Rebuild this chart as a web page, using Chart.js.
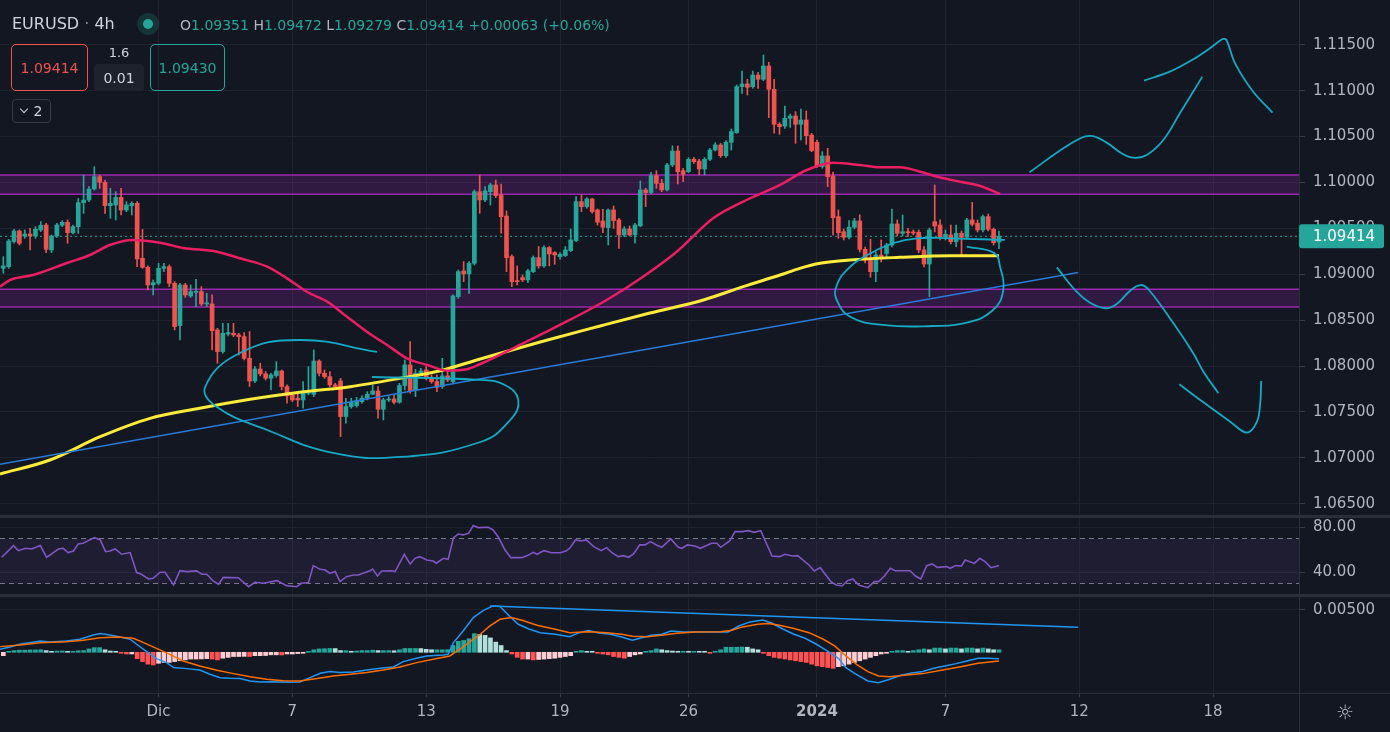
<!DOCTYPE html>
<html>
<head>
<meta charset="utf-8">
<script src="https://cdn.jsdelivr.net/npm/chart.js@4.4.1/dist/chart.umd.min.js"></script>
<style>
html,body{margin:0;padding:0;background:#131722;overflow:hidden;}
#wrap{position:relative;width:1390px;height:732px;background:#131722;}
#wrap canvas{position:absolute;left:0;top:0;}
.ov{position:absolute;font-family:'DejaVu Sans',sans-serif;white-space:nowrap;z-index:2;}
.box{position:absolute;box-sizing:border-box;border-radius:5px;display:flex;align-items:center;justify-content:center;font-family:'DejaVu Sans',sans-serif;font-size:14px;z-index:2;}
.g{color:#b2b5be}.t{color:#26a69a}
</style>
</head>
<body>
<div id="wrap">
<canvas id="c" width="1390" height="732"></canvas>
<div class="ov" style="left:12px;top:14px;font-size:16px;line-height:20px;color:#d1d4dc;">EURUSD <span style="color:#868993">·</span> 4h</div>
<div class="ov" style="left:137px;top:13px;width:22px;height:22px;border-radius:11px;background:rgba(38,166,154,0.2);"><div style="position:absolute;left:6px;top:6px;width:10px;height:10px;border-radius:5px;background:#26a69a;"></div></div>
<div class="ov" style="left:180px;top:16px;font-size:14px;line-height:18px;"><span class="g">O</span><span class="t">1.09351</span> <span class="g">H</span><span class="t">1.09472</span> <span class="g">L</span><span class="t">1.09279</span> <span class="g">C</span><span class="t">1.09414</span> <span class="t">+0.00063 (+0.06%)</span></div>
<div class="box" style="left:11px;top:44px;width:77px;height:47px;border:1px solid #ef5350;color:#ef5350;">1.09414</div>
<div class="ov" style="left:94px;top:45px;width:50px;text-align:center;font-size:13px;line-height:16px;color:#d1d4dc;">1.6</div>
<div class="box" style="left:94px;top:64px;width:50px;height:27px;background:#1e222d;border-radius:4px;color:#d1d4dc;">0.01</div>
<div class="box" style="left:150px;top:44px;width:75px;height:47px;border:1px solid #26a69a;color:#26a69a;">1.09430</div>
<div class="box" style="left:12px;top:99px;width:39px;height:24px;border:1px solid #363a45;border-radius:4px;color:#d1d4dc;font-size:14px;"><span style="display:inline-block;width:5px;height:5px;border-right:1.5px solid #d1d4dc;border-bottom:1.5px solid #d1d4dc;transform:rotate(45deg);margin:-4px 7px 0 0;"></span>2</div>
<div class="ov" style="left:1336px;top:700px;font-size:20px;line-height:24px;color:#b2b5be;">☼</div>
</div>
<script>
// ---------- DATA ----------
const open = [
1.09065,1.09083,1.09356,1.09472,1.09417,1.09439,1.09417,1.09483,1.09537,1.09265,
1.09417,1.09534,1.09566,1.09454,1.09519,1.09780,1.09809,1.09929,1.10064,1.10002,
1.09748,1.09755,1.09838,1.09700,1.09748,1.09773,1.09174,1.09076,1.08884,1.08902,
1.09065,1.09083,1.08902,1.08441,1.08884,1.08764,1.08804,1.08811,1.08677,1.08677,
1.08394,1.08158,1.08350,1.08357,1.08339,1.08321,1.08085,1.07838,1.07969,1.07915,
1.07867,1.07896,1.07947,1.07777,1.07686,1.07650,1.07631,1.07704,1.07693,1.08056,
1.07922,1.07885,1.07795,1.07838,1.07450,1.07559,1.07570,1.07613,1.07650,1.07693,
1.07729,1.07530,1.07631,1.07642,1.07606,1.07788,1.08013,1.07733,1.07922,1.07958,
1.07867,1.07831,1.07777,1.07893,1.07831,1.08757,1.09036,1.09004,1.09120,1.09900,
1.09810,1.09900,1.09973,1.09864,1.09635,1.09193,1.08928,1.08964,1.08939,1.09029,
1.09182,1.09091,1.09291,1.09236,1.09193,1.09204,1.09258,1.09367,1.09792,1.09737,
1.09821,1.09701,1.09581,1.09508,1.09701,1.09592,1.09429,1.09494,1.09429,1.09527,
1.09919,1.09890,1.10075,1.09991,1.09919,1.10191,1.10343,1.10129,1.10118,1.10253,
1.10234,1.10147,1.10253,1.10354,1.10409,1.10292,1.10438,1.10543,1.11044,1.11073,
1.11044,1.11171,1.11124,1.11269,1.11015,1.10634,1.10615,1.10699,1.10724,1.10634,
1.10681,1.10517,1.10438,1.10173,1.10289,1.10071,1.09628,1.09464,1.09403,1.09512,
1.09581,1.09272,1.09163,1.09028,1.09210,1.09226,1.09319,1.09548,1.09447,1.09464,
1.09458,1.09458,1.09265,1.09112,1.09573,1.09537,1.09403,1.09428,1.09355,1.09447,
1.09403,1.09592,1.09556,1.09483,1.09628,1.09490,1.09351
];
const high = [
1.09192,1.09381,1.09490,1.09483,1.09483,1.09501,1.09519,1.09573,1.09555,1.09428,
1.09555,1.09584,1.09592,1.09537,1.09828,1.10082,1.09955,1.10172,1.10082,1.10027,
1.09936,1.09900,1.09936,1.09791,1.09791,1.09791,1.09490,1.09091,1.08938,1.09120,
1.09120,1.09102,1.08920,1.08902,1.08902,1.08884,1.08945,1.08866,1.08793,1.08775,
1.08412,1.08466,1.08466,1.08466,1.08357,1.08365,1.08376,1.07994,1.08031,1.07940,
1.07922,1.08049,1.07958,1.07795,1.07704,1.07722,1.07831,1.07994,1.08176,1.08067,
1.07958,1.07940,1.07813,1.07867,1.07650,1.07650,1.07660,1.07675,1.07722,1.07795,
1.07777,1.07650,1.07668,1.07686,1.07813,1.08067,1.08267,1.07965,1.07976,1.07994,
1.07904,1.07904,1.08085,1.07976,1.08775,1.09047,1.09138,1.09138,1.09919,1.10082,
1.09955,1.09991,1.10027,1.09984,1.09690,1.09211,1.09091,1.08993,1.09055,1.09200,
1.09302,1.09309,1.09302,1.09247,1.09236,1.09302,1.09494,1.09846,1.09864,1.09835,
1.09828,1.09712,1.09708,1.09712,1.09744,1.09610,1.09519,1.09527,1.09556,1.10017,
1.09937,1.10111,1.10129,1.10035,1.10209,1.10398,1.10398,1.10155,1.10271,1.10274,
1.10253,1.10271,1.10372,1.10434,1.10427,1.10456,1.10583,1.11062,1.11214,1.11124,
1.11214,1.11200,1.11389,1.11309,1.11124,1.10652,1.10833,1.10746,1.10772,1.10801,
1.10779,1.10536,1.10463,1.10336,1.10372,1.10114,1.09701,1.09494,1.09584,1.09610,
1.09648,1.09297,1.09381,1.09243,1.09374,1.09337,1.09711,1.09592,1.09646,1.09501,
1.09483,1.09483,1.09301,1.09504,1.09973,1.09592,1.09483,1.09537,1.09537,1.09472,
1.09610,1.09784,1.09592,1.09646,1.09657,1.09504,1.09472
];
const low = [
1.09011,1.09065,1.09338,1.09319,1.09392,1.09265,1.09392,1.09465,1.09236,1.09236,
1.09403,1.09519,1.09338,1.09439,1.09446,1.09664,1.09791,1.09918,1.09936,1.09664,
1.09610,1.09592,1.09646,1.09682,1.09646,1.09083,1.09065,1.08829,1.08775,1.08884,
1.09029,1.08866,1.08394,1.08285,1.08749,1.08749,1.08648,1.08659,1.08648,1.08176,
1.08031,1.08140,1.08328,1.08321,1.08122,1.08067,1.07777,1.07820,1.07893,1.07849,
1.07740,1.07878,1.07740,1.07595,1.07613,1.07559,1.07541,1.07686,1.07668,1.07893,
1.07867,1.07777,1.07758,1.07232,1.07377,1.07541,1.07552,1.07595,1.07631,1.07686,
1.07432,1.07414,1.07613,1.07588,1.07595,1.07740,1.07704,1.07668,1.07904,1.07849,
1.07813,1.07722,1.07758,1.07831,1.07813,1.08738,1.08920,1.08793,1.09100,1.09665,
1.09792,1.09755,1.09835,1.09447,1.09029,1.08866,1.08884,1.08920,1.08909,1.09018,
1.09066,1.09076,1.09091,1.09109,1.09164,1.09193,1.09247,1.09356,1.09683,1.09719,
1.09665,1.09537,1.09454,1.09320,1.09501,1.09283,1.09410,1.09418,1.09338,1.09519,
1.09737,1.09875,1.09937,1.09900,1.09908,1.10173,1.09984,1.10009,1.10107,1.10209,
1.10082,1.10082,1.10238,1.10343,1.10274,1.10274,1.10354,1.10536,1.10971,1.10953,
1.11026,1.11026,1.11109,1.10706,1.10536,1.10525,1.10590,1.10601,1.10427,1.10463,
1.10416,1.10336,1.10162,1.10155,1.09955,1.09428,1.09392,1.09374,1.09385,1.09494,
1.09243,1.09123,1.08967,1.08919,1.09134,1.09167,1.09297,1.09417,1.09417,1.09410,
1.09428,1.09235,1.09080,1.08756,1.09461,1.09374,1.09374,1.09330,1.09301,1.09210,
1.09385,1.09526,1.09461,1.09461,1.09472,1.09319,1.09279
];
const close = [
1.09091,1.09363,1.09472,1.09338,1.09439,1.09417,1.09490,1.09534,1.09272,1.09417,
1.09537,1.09566,1.09454,1.09519,1.09780,1.09809,1.09929,1.10064,1.10002,1.09748,
1.09773,1.09838,1.09700,1.09755,1.09773,1.09167,1.09076,1.08884,1.08909,1.09065,
1.09083,1.08902,1.08430,1.08884,1.08775,1.08811,1.08811,1.08677,1.08684,1.08386,
1.08158,1.08357,1.08365,1.08339,1.08321,1.08085,1.07838,1.07969,1.07915,1.07867,
1.07904,1.07947,1.07777,1.07675,1.07631,1.07631,1.07704,1.07711,1.08056,1.07922,
1.07885,1.07795,1.07777,1.07450,1.07559,1.07606,1.07624,1.07650,1.07693,1.07729,
1.07530,1.07631,1.07642,1.07606,1.07788,1.08013,1.07733,1.07922,1.07947,1.07867,
1.07831,1.07769,1.07893,1.07849,1.08764,1.09029,1.09004,1.09120,1.09900,1.09810,
1.09908,1.09973,1.09857,1.09628,1.09182,1.08920,1.08920,1.08939,1.09037,1.09182,
1.09091,1.09291,1.09222,1.09211,1.09218,1.09265,1.09374,1.09792,1.09737,1.09821,
1.09683,1.09567,1.09512,1.09701,1.09585,1.09429,1.09494,1.09429,1.09537,1.09919,
1.09890,1.10075,1.09991,1.09919,1.10191,1.10343,1.10118,1.10089,1.10253,1.10227,
1.10147,1.10253,1.10354,1.10409,1.10292,1.10438,1.10554,1.11044,1.11073,1.11037,
1.11171,1.11124,1.11269,1.11015,1.10634,1.10608,1.10699,1.10724,1.10634,1.10681,
1.10510,1.10347,1.10173,1.10289,1.10064,1.09617,1.09453,1.09403,1.09512,1.09581,
1.09272,1.09156,1.09028,1.09210,1.09167,1.09319,1.09548,1.09447,1.09464,1.09453,
1.09450,1.09265,1.09112,1.09483,1.09526,1.09410,1.09436,1.09355,1.09447,1.09403,
1.09592,1.09545,1.09483,1.09628,1.09490,1.09344,1.09414
];

// moving averages: [bar index, price]
const maRed = [[-0.62,1.08865],[1.25,1.08938],[5.55,1.08992],[11.9,1.09123],[16.2,1.09210],[19.9,1.09319],[24.2,1.09374],[29.3,1.09344],[33.6,1.09287],[39.9,1.09246],[44.2,1.09174],[49.3,1.09083],[53.0,1.08956],[56.7,1.08810],[60.5,1.08702],[64.2,1.08538],[67.9,1.08375],[71.7,1.08230],[75.4,1.08085],[79.2,1.08012],[82.9,1.07950],[86.6,1.07965],[89.1,1.08023],[96.5,1.08230],[104.0,1.08448],[112.7,1.08720],[119.5,1.08974],[125.8,1.09246],[132.6,1.09610],[138.2,1.09791],[145.1,1.09973],[150.1,1.10136],[155.0,1.10216],[160.0,1.10191],[163.8,1.10166],[167.5,1.10166],[171.3,1.10118],[174.9,1.10057],[178.7,1.10009],[182.5,1.09962],[186.2,1.09875]];
const maYellow = [[-0.62,1.06825],[8.7,1.06977],[18.1,1.07231],[27.4,1.07431],[36.7,1.07540],[46.1,1.07638],[55.4,1.07715],[64.8,1.07776],[74.1,1.07867],[81.6,1.07950],[89.1,1.08077],[100.3,1.08263],[111.5,1.08437],[120.8,1.08578],[130.8,1.08720],[138.2,1.08865],[145.1,1.08992],[148.8,1.09065],[152.6,1.09120],[158.2,1.09156],[167.5,1.09185],[176.8,1.09203],[186.0,1.09203]];

// price zones and trend line
const zoneUpper = [1.09871, 1.10082];
const zoneLower = [1.08644, 1.08837];
const trendLine = [[-0.62,1.06930],[200.8,1.09019]];

// freehand drawings: [bar index, price]
const drawEllipseLeft = [[69.8,1.08154],[55.4,1.08284],[44.2,1.08143],[37.7,1.07772],[39.9,1.07555],[49.3,1.07304],[61.6,1.07054],[74.1,1.07010],[89.1,1.07173],[94.7,1.07413],[96.2,1.07631],[93.7,1.07794],[89.1,1.07849],[68.9,1.07881]];
const drawEllipseRight = [[187.1,1.09374],[176.8,1.09392],[170.7,1.09392],[166.2,1.09338],[161.4,1.09210],[157.6,1.09047],[155.6,1.08865],[155.7,1.08720],[158.2,1.08538],[164.3,1.08448],[173.7,1.08437],[180.0,1.08473],[184.9,1.08611],[186.8,1.08829],[186.2,1.09083],[185.1,1.09232],[180.0,1.09301]];
const drawUp1 = [[191.7,1.10111],[199.3,1.10419],[203.0,1.10507],[206.1,1.10434],[208.9,1.10318],[211.1,1.10270],[213.6,1.10300],[216.7,1.10463],[219.8,1.10754],[224.0,1.11153]];
const drawUp2 = [[213.1,1.11109],[217.9,1.11207],[222.3,1.11342],[225.4,1.11462],[227.8,1.11563],[228.5,1.11552],[230.1,1.11298],[233.5,1.10989],[237.1,1.10760]];
const drawDown1 = [[196.8,1.09076],[200.5,1.08810],[203.0,1.08691],[206.0,1.08630],[208.0,1.08677],[210.5,1.08821],[212.4,1.08883],[213.9,1.08837],[218.6,1.08466],[222.3,1.08139],[224.2,1.07939],[227.0,1.07704]];
const drawDown2 = [[219.7,1.07802],[223.6,1.07631],[229.2,1.07394],[232.3,1.07275],[234.2,1.07394],[234.8,1.07595],[235.0,1.07838]];

// RSI: [bar index, value]
const rsi = [[-0.3,53.3],[1.9,63.7],[2.8,59.2],[4.1,61.3],[5.3,60.7],[6.9,63.7],[8.1,53.3],[10.3,60.7],[11.2,61.3],[12.1,57.5],[13.1,58.9],[14.0,65.2],[14.9,65.8],[17.0,70.8],[18.1,68.7],[19.1,58.3],[19.9,58.9],[20.9,60.7],[22.1,56.0],[23.7,57.5],[24.9,39.7],[25.8,38.2],[27.1,34.0],[28.0,34.6],[29.3,40.0],[30.2,40.0],[31.8,28.7],[33.0,41.4],[34.3,40.6],[36.1,41.2],[37.1,38.2],[38.0,38.2],[39.2,32.3],[40.2,29.3],[41.1,35.5],[43.9,35.2],[45.8,27.2],[47.0,31.1],[48.6,30.2],[51.1,32.6],[52.9,28.1],[54.8,27.2],[55.7,30.2],[57.0,30.8],[57.9,45.9],[59.2,42.6],[60.1,42.0],[61.0,39.1],[62.0,40.6],[62.9,31.7],[64.1,36.1],[65.4,37.6],[66.3,37.6],[68.5,41.4],[69.0,42.9],[69.9,36.7],[70.7,41.2],[72.6,41.4],[73.2,40.6],[74.9,56.0],[76.0,47.4],[76.9,52.4],[77.8,53.9],[79.1,50.9],[80.3,50.0],[80.9,48.0],[82.2,52.4],[83.1,51.5],[84.1,70.8],[85.0,74.0],[85.9,73.2],[86.9,74.6],[87.8,81.5],[88.7,79.7],[90.6,80.0],[91.5,77.6],[92.5,71.1],[93.7,60.0],[94.8,53.0],[96.9,53.0],[97.9,54.8],[99.0,57.7],[99.7,56.0],[101.0,59.2],[102.4,57.4],[104.1,57.4],[105.2,59.2],[105.8,61.3],[106.9,68.7],[107.9,67.8],[108.9,68.7],[110.3,62.8],[111.7,59.2],[112.7,61.9],[113.7,57.4],[114.9,53.9],[115.8,54.8],[116.8,53.3],[117.7,56.0],[118.9,64.3],[119.9,64.3],[120.9,67.2],[122.0,64.3],[123.0,62.2],[124.7,69.6],[126.1,62.2],[126.8,61.3],[127.8,64.3],[129.2,63.4],[130.2,61.3],[132.3,65.8],[133.3,65.8],[134.0,62.2],[135.7,67.8],[136.7,76.1],[138.1,76.1],[139.2,77.0],[140.2,75.5],[141.5,77.0],[143.6,54.5],[145.0,53.9],[146.0,56.0],[147.4,54.5],[148.4,54.8],[150.5,46.5],[151.5,41.2],[152.6,44.1],[154.6,31.7],[155.6,28.7],[156.7,27.8],[157.7,32.6],[158.7,34.0],[159.8,28.7],[161.5,26.3],[162.7,31.7],[163.5,31.7],[164.6,36.7],[165.7,43.5],[166.6,41.4],[169.4,41.4],[170.4,36.7],[171.4,34.0],[172.5,45.9],[173.5,47.4],[174.5,44.4],[176.2,45.0],[176.9,43.5],[177.9,45.9],[179.0,45.6],[179.7,50.9],[181.4,47.9],[182.4,52.4],[183.4,49.4],[184.5,44.1],[186.0,45.9]];
const rsiBand = [30, 70];

// MACD
const macdLine = [[-0.6,0.00036],[1.25,0.00063],[3.1,0.00095],[6.9,0.00134],[8.7,0.00122],[11.8,0.00134],[14.3,0.00154],[16.8,0.00205],[18.1,0.00221],[19.9,0.00205],[21.8,0.00181],[23.7,0.00154],[24.9,0.00095],[26.8,0.00008],[28.6,-0.00075],[30.5,-0.00122],[31.8,-0.00181],[34.3,-0.00193],[36.7,-0.00209],[38.6,-0.0026],[40.5,-0.003],[42.4,-0.00307],[44.2,-0.00311],[46.1,-0.00339],[47.9,-0.00351],[50.4,-0.00347],[52.9,-0.00355],[55.4,-0.00351],[57.3,-0.003],[59.2,-0.00248],[61.0,-0.00228],[62.9,-0.0024],[65.4,-0.00232],[67.9,-0.00209],[70.4,-0.00189],[72.9,-0.00173],[74.7,-0.0011],[77.2,-0.00071],[79.1,-0.00043],[82.2,-0.00032],[83.1,-0.00024],[84.1,0.00114],[85.9,0.00252],[87.8,0.0041],[89.7,0.00496],[91.5,0.00548],[92.8,0.0054],[94.2,0.00449],[96.2,0.00331],[98.3,0.00272],[100.3,0.00232],[103.1,0.00213],[105.8,0.00185],[107.6,0.00232],[109.3,0.00256],[111.3,0.00229],[113.4,0.00213],[115.5,0.00181],[117.5,0.00142],[118.9,0.00166],[121.0,0.00201],[123.0,0.00213],[124.7,0.00252],[127.1,0.0024],[129.9,0.0024],[132.6,0.0024],[135.4,0.0024],[137.4,0.00311],[139.5,0.00359],[141.9,0.00382],[143.6,0.00343],[145.7,0.00272],[147.7,0.00213],[149.8,0.00166],[151.9,0.00095],[153.9,0.00016],[156.0,-0.00071],[157.4,-0.00181],[159.1,-0.00252],[161.5,-0.00339],[163.5,-0.00359],[165.6,-0.00319],[167.7,-0.00272],[169.7,-0.00244],[171.8,-0.00228],[173.8,-0.00189],[175.9,-0.00162],[178.0,-0.00134],[180.0,-0.00102],[182.1,-0.00071],[184.1,-0.00071],[186.0,-0.00075]];
const signalLine = [[-0.6,0.00067],[3.1,0.00087],[6.9,0.00114],[11.8,0.00126],[14.9,0.00142],[18.1,0.00173],[21.2,0.00181],[24.3,0.00165],[26.2,0.00114],[28.6,0.00047],[31.1,-0.00024],[33.6,-0.00102],[36.7,-0.00162],[39.9,-0.00213],[43.0,-0.00252],[46.1,-0.00288],[49.2,-0.00319],[52.3,-0.00335],[55.4,-0.00339],[58.6,-0.00311],[61.6,-0.0028],[64.8,-0.0026],[67.9,-0.0024],[71.0,-0.00209],[74.1,-0.00173],[77.2,-0.00122],[80.3,-0.00083],[83.4,-0.00043],[85.3,0.00036],[87.2,0.00126],[89.1,0.00213],[90.9,0.00311],[92.8,0.0039],[94.9,0.0041],[96.9,0.00378],[99.7,0.00319],[103.1,0.00272],[105.8,0.00232],[109.3,0.00244],[112.7,0.00232],[115.5,0.00213],[117.5,0.00189],[120.3,0.00185],[123.0,0.00201],[125.8,0.00225],[129.2,0.0024],[134.0,0.00244],[136.1,0.0026],[138.1,0.003],[140.9,0.00331],[142.9,0.00339],[145.0,0.00319],[147.7,0.0028],[150.5,0.00232],[153.2,0.00154],[155.3,0.00075],[157.4,-0.00043],[159.4,-0.00142],[161.5,-0.00228],[163.5,-0.0028],[165.6,-0.00288],[168.3,-0.00272],[171.8,-0.00252],[175.2,-0.00213],[178.6,-0.00173],[182.1,-0.0013],[186.0,-0.00102]];
const macdHist = [
-0.0004,0.0001,0.0002,0.00025,0.00025,0.00028,0.00028,0.0003,0.0002,0.0001,
0.00015,0.00016,0.0001,0.00012,0.00018,0.0002,0.0004,0.00055,0.00055,0.0003,
0.00015,0.00002,-0.0001,-0.0002,-0.0002,-0.00075,-0.0011,-0.0014,-0.0015,-0.0013,
-0.0012,-0.0012,-0.0011,-0.001,-0.0009,-0.0008,-0.0008,-0.00078,-0.00075,-0.0008,
-0.0009,-0.0007,-0.0006,-0.0005,-0.0005,-0.00048,-0.0005,-0.0004,-0.0004,-0.00038,
-0.0003,-0.0003,-0.00032,-0.0002,-0.0002,-0.00015,-0.0001,0.0001,0.0003,0.0004,
0.00042,0.00045,0.00044,0.0002,0.0002,0.0001,0.00015,0.0002,0.0002,0.00025,
0.0002,0.0002,0.0002,0.00018,0.0003,0.00045,0.00045,0.00045,0.00044,0.00035,
0.0003,0.0003,0.0003,0.0003,0.0008,0.0013,0.0014,0.0016,0.0022,0.0021,
0.002,0.0017,0.0012,0.0008,0.0002,-0.0002,-0.0006,-0.0008,-0.0008,-0.0009,
-0.00085,-0.0008,-0.00075,-0.0007,-0.0006,-0.0005,-0.0004,0.0001,0.0002,0.0001,
0.00005,-0.0001,-0.0002,-0.0003,-0.0005,-0.0006,-0.0007,-0.0005,-0.0003,-0.0002,
0.0001,0.0002,0.0004,0.0003,0.0002,0.00015,0.0001,0.0001,0.00005,0.0001,
0.00005,0.00002,-0.00003,0.00005,0.0003,0.0006,0.0006,0.0006,0.00062,0.0006,
0.0004,0.0003,-0.0001,-0.0004,-0.0006,-0.0007,-0.0008,-0.0009,-0.001,-0.0011,
-0.0012,-0.0014,-0.0016,-0.0017,-0.0018,-0.0019,-0.0017,-0.0016,-0.0014,-0.0012,
-0.001,-0.0008,-0.0006,-0.0004,-0.0002,-0.0001,0.0001,0.0002,0.0002,0.0001,
0.0002,0.0003,0.0004,0.0003,0.0005,0.0005,0.0004,0.0005,0.0005,0.0004,
0.0005,0.0005,0.0004,0.0005,0.0004,0.0003,0.0003
];
const macdTrend = [[90.9,0.00547],[200.8,0.00296]];

// axes
const timeTickIdx = [29,54,79,104,128,152,176,201,226];
const timeTickLbl = ['Dic','7','13','19','26','2024','7','12','18'];
const priceTicks = [1.065,1.070,1.075,1.080,1.085,1.090,1.095,1.100,1.105,1.110,1.115];
const rsiTicks = [40,80];
const macdTicks = [0.005];
const xRange = [-0.62, 242.05];
const priceRange = [1.06367, 1.11988];
const rsiRange = [19.8, 90];
const macdRange = [-0.00481, 0.00677];

// ---------- CHART ----------
const UP = '#26a69a', DN = '#ef5350', GRID = '#1f232e', TXT = '#b2b5be', CYAN = '#16a9c3';
const FONT = "'DejaVu Sans', sans-serif";
Chart.defaults.font.family = FONT;
const idx = close.map((_, i) => i);
const candleColor = idx.map(i => close[i] >= open[i] ? UP : DN);
const histColor = macdHist.map((v, i) => {
  const p = i > 0 ? macdHist[i - 1] : v;
  if (v >= 0) return v >= p ? '#26a69a' : '#b2dfdb';
  return v < p ? '#ff5252' : '#ffcdd2';
});
const P = arr => arr.map(a => ({x: a[0], y: a[1]}));
const H = v => [{x: xRange[0], y: v}, {x: xRange[1], y: v}];
const line = (data, color, width, order, extra) => Object.assign({type: 'line', data: data, borderColor: color, borderWidth: width, pointRadius: 0, fill: false, order: order, yAxisID: 'y'}, extra || {});
const lastPrice = close[close.length - 1];

const panes = {
  id: 'panes',
  afterDraw(c) {
    const ctx = c.ctx, a = c.chartArea, sy = c.scales.y, sr = c.scales.yR;
    ctx.save();
    ctx.fillStyle = '#2a2e39';
    ctx.fillRect(0, Math.round(sy.bottom) - 1, c.width, 3);
    ctx.fillRect(0, Math.round(sr.bottom) - 1, c.width, 3);
    ctx.fillRect(0, Math.round(a.bottom), c.width, 1);
    ctx.fillRect(Math.round(a.right), 0, 1, c.height);
    const py = sy.getPixelForValue(lastPrice);
    ctx.fillStyle = UP;
    ctx.beginPath(); ctx.roundRect(a.right, py - 12, 85, 24, 3); ctx.fill();
    ctx.fillStyle = '#ffffff'; ctx.font = '15px ' + FONT; ctx.textBaseline = 'middle'; ctx.textAlign = 'left';
    ctx.fillText(lastPrice.toFixed(5), a.right + 14, py + 1);
    ctx.restore();
  }
};

const yCommon = (weight, rng, ticks, fmt) => ({
  type: 'linear', position: 'right', stack: 'panes', stackWeight: weight,
  min: rng[0], max: rng[1], beginAtZero: false,
  afterBuildTicks: s => { s.ticks = ticks.map(v => ({value: v})); },
  afterFit: s => { s.width = 91; s.paddingTop = 0; s.paddingBottom = 0; s.paddingLeft = 0; s.paddingRight = 0; },
  grid: {color: GRID, drawTicks: true, tickLength: 6, tickColor: '#3a3e4a'},
  border: {display: false},
  ticks: {color: TXT, font: {size: 15, family: FONT}, padding: 8, autoSkip: false, callback: fmt}
});

new Chart(document.getElementById('c'), {
  type: 'line',
  data: {
    datasets: [
      // zones
      line(H(zoneUpper[1]), '#9c27b0', 1.5, 30, {fill: '+1', backgroundColor: 'rgba(156,39,176,0.22)'}),
      line(H(zoneUpper[0]), '#9c27b0', 1.5, 30),
      line(H(zoneLower[1]), '#9c27b0', 1.5, 30, {fill: '+1', backgroundColor: 'rgba(156,39,176,0.22)'}),
      line(H(zoneLower[0]), '#9c27b0', 1.5, 30),
      // last price dotted line
      line(H(lastPrice), UP, 1, 25, {borderDash: [2, 3]}),
      // candles
      {type: 'bar', data: idx.map(i => ({x: i, y: [low[i], high[i]]})), backgroundColor: candleColor, barThickness: 1, grouped: false, order: 21, yAxisID: 'y'},
      {type: 'bar', data: idx.map(i => ({x: i, y: [open[i], close[i]]})), backgroundColor: candleColor, barThickness: 4, minBarLength: 1, grouped: false, order: 20, yAxisID: 'y'},
      // moving averages
      line(P(maYellow), '#ffeb3b', 3, 12, {cubicInterpolationMode: 'monotone'}),
      line(P(maRed), '#e91e63', 2.5, 11, {cubicInterpolationMode: 'monotone'}),
      line(P(trendLine), '#2a7ad8', 1.5, 10),
      // drawings
      line(P(drawEllipseLeft), CYAN, 1.8, 5, {tension: 0.45}),
      line(P(drawEllipseRight), CYAN, 1.8, 5, {tension: 0.45}),
      line(P(drawUp1), CYAN, 1.8, 5, {tension: 0.4}),
      line(P(drawUp2), CYAN, 1.8, 5, {tension: 0.3}),
      line(P(drawDown1), CYAN, 1.8, 5, {tension: 0.4}),
      line(P(drawDown2), CYAN, 1.8, 5, {tension: 0.35}),
      // RSI
      line(H(rsiBand[1]), '#787b86', 1, 30, {yAxisID: 'yR', borderDash: [5, 4], fill: '+1', backgroundColor: 'rgba(126,87,194,0.1)'}),
      line(H(rsiBand[0]), '#787b86', 1, 30, {yAxisID: 'yR', borderDash: [5, 4]}),
      line(P(rsi), '#7e57c2', 1.6, 5, {yAxisID: 'yR'}),
      // MACD
      {type: 'bar', data: idx.map(i => ({x: i, y: macdHist[i]})), backgroundColor: histColor, barThickness: 4, minBarLength: 1, grouped: false, order: 20, yAxisID: 'yM'},
      line(P(macdLine), '#2196f3', 1.5, 6, {yAxisID: 'yM'}),
      line(P(signalLine), '#ff6d00', 1.5, 5, {yAxisID: 'yM'}),
      line(P(macdTrend), '#2196f3', 1.5, 4, {yAxisID: 'yM'})
    ]
  },
  options: {
    responsive: false, animation: false, devicePixelRatio: 1,
    layout: {padding: 0},
    plugins: {legend: {display: false}, tooltip: {enabled: false}},
    events: [],
    scales: {
      x: {
        type: 'linear', position: 'bottom', min: xRange[0], max: xRange[1], offset: false,
        afterBuildTicks: s => { s.ticks = timeTickIdx.map(v => ({value: v})); },
        afterFit: s => { s.height = 39; s.paddingLeft = 0; s.paddingRight = 0; s.paddingTop = 0; s.paddingBottom = 0; },
        grid: {color: GRID, drawTicks: true, tickLength: 4, tickColor: '#3a3e4a', offset: false},
        border: {display: false},
        ticks: {
          color: TXT, padding: 6, autoSkip: false, maxRotation: 0,
          font: ctx => ({size: 15, family: FONT, weight: (ctx.tick && ctx.tick.label === '2024') ? 'bold' : 'normal'}),
          callback: (v, i) => timeTickLbl[i]
        }
      },
      y: yCommon(516, priceRange, priceTicks, v => v.toFixed(5)),
      yR: yCommon(79, rsiRange, rsiTicks, v => v.toFixed(2)),
      yM: yCommon(98, macdRange, macdTicks, v => v.toFixed(5))
    }
  },
  plugins: [panes]
});
</script>
</body>
</html>
